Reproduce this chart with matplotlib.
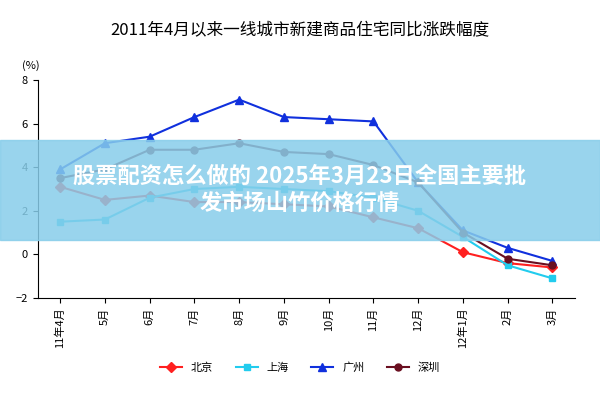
import matplotlib
matplotlib.use("Agg")
import matplotlib.pyplot as plt

plt.rcParams['font.family'] = ['Noto Sans CJK SC', 'DejaVu Sans']

months = ["11年4月", "5月", "6月", "7月", "8月", "9月", "10月", "11月", "12月", "12年1月", "2月", "3月"]
beijing = [3.1, 2.5, 2.7, 2.4, 2.4, 2.3, 2.2, 1.7, 1.2, 0.1, -0.4, -0.6]
shanghai = [1.5, 1.6, 2.6, 3.0, 3.1, 3.0, 2.9, 2.6, 2.0, 0.8, -0.5, -1.1]
guangzhou = [3.9, 5.1, 5.4, 6.3, 7.1, 6.3, 6.2, 6.1, 3.3, 1.1, 0.3, -0.3]
shenzhen = [3.5, 3.9, 4.8, 4.8, 5.1, 4.7, 4.6, 4.1, 3.3, 1.0, -0.2, -0.5]

fig = plt.figure(figsize=(6, 4), dpi=100)
ax = fig.add_axes([0.063, 0.255, 0.895, 0.545])
x = list(range(len(months)))
ax.plot(x, beijing, color='#ff2020', marker='D', ms=5, lw=1.5, label='北京')
ax.plot(x, shanghai, color='#22ccee', marker='s', ms=5, lw=1.5, label='上海')
ax.plot(x, guangzhou, color='#1030dd', marker='^', ms=6, lw=1.5, label='广州')
ax.plot(x, shenzhen, color='#6a0f20', marker='o', ms=5, lw=1.5, label='深圳')
ax.set_ylim(-2, 8)
ax.set_yticks(range(-2, 9, 2))
ax.set_xlim(-0.5, len(months) - 0.5)
ax.set_xticks(x)
ax.set_xticklabels(months, rotation=90, fontsize=8)
ax.tick_params(axis='y', labelsize=8)
for s in ['top', 'right']:
    ax.spines[s].set_visible(False)
ax.text(-0.03, 1.05, '(%)', transform=ax.transAxes, fontsize=8)
fig.suptitle('2011年4月以来一线城市新建商品住宅同比涨跌幅度', fontsize=12, y=0.945)
fig.legend(loc='center', ncol=4, frameon=False, fontsize=8, bbox_to_anchor=(0.5, 0.08))

fig.patches.append(plt.Rectangle((0, 0.40), 1, 0.25, transform=fig.transFigure,
                                 color='#87cdea', alpha=0.85, zorder=5))
fig.text(0.5, 0.525, '股票配资怎么做的 2025年3月23日全国主要批\n发市场山竹价格行情', ha='center', va='center',
         color='white', fontsize=16, fontweight='bold', zorder=6, linespacing=1.2)
fig.savefig('out.png')
